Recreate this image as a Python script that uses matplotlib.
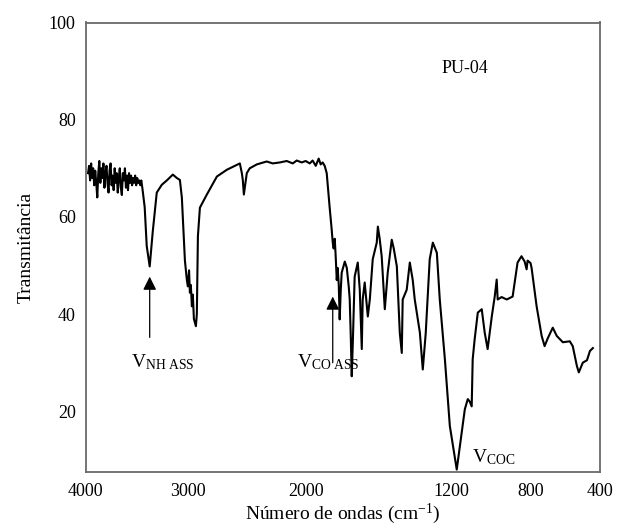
import matplotlib
matplotlib.use("Agg")
import matplotlib.pyplot as plt
import numpy as np
from matplotlib.ticker import FixedLocator, FixedFormatter

plt.rcParams["font.family"] = ["Liberation Serif", "DejaVu Serif"]
plt.rcParams["mathtext.fontset"] = "custom"
plt.rcParams["mathtext.rm"] = "Liberation Serif"
plt.rcParams["mathtext.it"] = "Liberation Serif:italic"

# FTIR spectrum of PU-04 (wavenumber cm-1, transmittance)
WAVENUMBER = [
    3975, 3965, 3955, 3945, 3935, 3925, 3915, 3905, 3895, 3885, 3875, 3865, 3855,
    3845, 3835, 3825, 3815, 3805, 3795, 3785, 3775, 3765, 3755, 3745, 3735, 3725,
    3715, 3705, 3695, 3685, 3675, 3665, 3655, 3645, 3635, 3625, 3615, 3605, 3595,
    3585, 3575, 3565, 3555, 3545, 3535, 3525, 3515, 3505, 3495, 3485, 3475, 3465,
    3455, 3445,
    3422, 3402, 3373, 3343, 3304, 3255, 3206, 3147, 3108, 3078, 3059, 3029,
    3010, 3000, 2990, 2983, 2975, 2966, 2958, 2949, 2941, 2932, 2924, 2915, 2898,
    2839, 2754, 2669, 2585, 2559, 2542, 2534, 2525, 2517, 2500, 2475, 2415, 2331,
    2280, 2220, 2161, 2110, 2076, 2034,
    2000, 1978, 1962, 1945, 1929, 1918, 1907, 1896, 1885, 1869, 1858, 1852, 1847,
    1841, 1836, 1830, 1825, 1819, 1814, 1808, 1803, 1786, 1775, 1764, 1759, 1753,
    1748, 1742, 1732, 1715, 1704, 1693, 1688, 1677, 1660, 1649, 1633, 1611, 1605,
    1595, 1584, 1567, 1551, 1529, 1518, 1501, 1485, 1474, 1469, 1447, 1430, 1414,
    1403, 1375, 1359, 1343, 1321, 1304, 1282, 1266, 1238, 1211,
    1175, 1159, 1134, 1119, 1109, 1099, 1094, 1084, 1068, 1048, 1033, 1018, 997,
    982, 972, 967, 947, 921, 891, 866, 846, 830, 820, 815, 800,
    794, 765, 736, 719, 701, 672, 649, 614, 574, 557, 533, 522, 499, 475, 458, 441,
]
TRANSMITTANCE = [
    69, 70.5, 67.5, 71, 68, 70, 66.5, 69.5, 67, 64, 69, 71.5, 67,
    70, 68, 71, 66, 69, 70.5, 67, 65, 69.5, 71, 66.5, 68.5, 65.5,
    70, 67, 69, 65, 68, 70, 66, 64.5, 69, 67.5, 70, 66, 68.5,
    65.5, 69, 67, 68.5, 66.5, 68, 67, 68.5, 66.5, 68, 67, 67.5, 66.5,
    67.5, 66,
    62, 54, 49.8, 57, 65, 66.6, 67.5, 68.7, 68, 67.6, 64, 51,
    47, 45.7, 49, 44.4, 46, 41.6, 44, 39, 38.3, 37.5, 40, 56, 61.9,
    64.6, 68.3, 69.7, 70.7, 71, 69, 67.6, 64.6, 66, 69, 70, 70.8, 71.4,
    71, 71.2, 71.5, 71, 71.6, 71.2,
    71.5, 71, 71.6, 70.5, 72, 70.8, 71.2, 70.5, 69, 62, 57.5, 54.7, 53.5,
    55.5, 52, 47, 49.5, 46, 38.9, 45, 48.5, 50.8, 49.5, 45.5, 43, 35,
    27.2, 34.2, 47.7, 50.6, 45, 32.8, 43, 46.5, 39.5, 43, 51.3, 54.7, 58,
    55.5, 51.9, 41, 48.5, 55.3, 53.5, 49.8, 36.2, 32, 43, 45, 50.6, 47,
    43, 36.2, 28.6, 36, 51.3, 54.7, 52.6, 43, 30.7, 17,
    8, 12.8, 20.4, 22.5, 22, 21, 30.7, 34.8, 40.3, 41, 36.2, 32.8, 39.5,
    43.6, 47.1, 43, 43.5, 43, 43.6, 50.6, 51.9, 50.8, 49.2, 51, 50.5,
    49.5, 41.6, 35.5, 33.4, 35, 37.2, 35.5, 34.2, 34.4, 33.4, 29.3, 28, 30, 30.5, 32.4, 33,
]

X_TICKS = [4000, 3000, 2000, 1200, 800, 400]
# the printed axis is not linear: where each tick sits along the axis (0..1, left to right)
X_TICK_FRAC = [0.0, 0.199, 0.428, 0.712, 0.865, 1.0]
Y_TICKS = [20, 40, 60, 80, 100]

# arrow markers: (wavenumber, tip, tail)
NH_ARROW = (3373, 47.7, 35.2)
CO_ARROW = (1852, 43.6, 30.0)


# scale value grows with wavenumber, axis limits are then given high -> low
def forward(x):
    return 1.0 - np.interp(x, X_TICKS[::-1], X_TICK_FRAC[::-1])


def inverse(p):
    return np.interp(1.0 - np.asarray(p), X_TICK_FRAC, X_TICKS)


def main():
    fig = plt.figure(figsize=(6.18, 5.30), dpi=100)
    ax = fig.add_axes([85.5 / 618, 58 / 530, 514.5 / 618, 449.5 / 530])

    ax.set_xscale("function", functions=(forward, inverse))
    ax.plot(WAVENUMBER, TRANSMITTANCE, color="black", lw=1.5, solid_joinstyle="round")

    ax.set_xlim(4000, 400)
    ax.set_ylim(7.5, 100)
    ax.xaxis.set_major_locator(FixedLocator(X_TICKS))
    ax.xaxis.set_major_formatter(FixedFormatter([str(t) for t in X_TICKS]))
    ax.xaxis.set_minor_locator(FixedLocator([]))
    ax.yaxis.set_major_locator(FixedLocator(Y_TICKS))
    ax.tick_params(axis="both", length=0, labelsize=13)
    ax.tick_params(axis="x", pad=8)
    ax.tick_params(axis="y", pad=7)

    for sp in ax.spines.values():
        sp.set_color("#6a6a6a")
        sp.set_linewidth(1.3)

    ax.set_xlabel("Número de ondas (cm$^{\\mathrm{-1}}$)", fontsize=14, labelpad=1)
    ax.set_ylabel("Transmitância", fontsize=14, labelpad=10)

    for wn, tip, tail in (NH_ARROW, CO_ARROW):
        ax.annotate("", xy=(wn, tip), xytext=(wn, tail),
                    arrowprops=dict(arrowstyle="-|>", color="black", lw=0.9,
                                    mutation_scale=20, shrinkA=0, shrinkB=0))
    ax.text(3560, 29.0, "V$_{\\mathrm{NH\\ ASS}}$", fontsize=14, ha="left", va="baseline")
    ax.text(2076, 29.0, "V$_{\\mathrm{CO\\ ASS}}$", fontsize=14, ha="left", va="baseline")
    ax.text(1099, 9.5, "V$_{\\mathrm{COC}}$", fontsize=14, ha="left", va="baseline")
    ax.text(1134, 90.6, "PU-04", fontsize=13, ha="center", va="center")

    fig.savefig("out.png", dpi=100, facecolor="white")


if __name__ == "__main__":
    main()
